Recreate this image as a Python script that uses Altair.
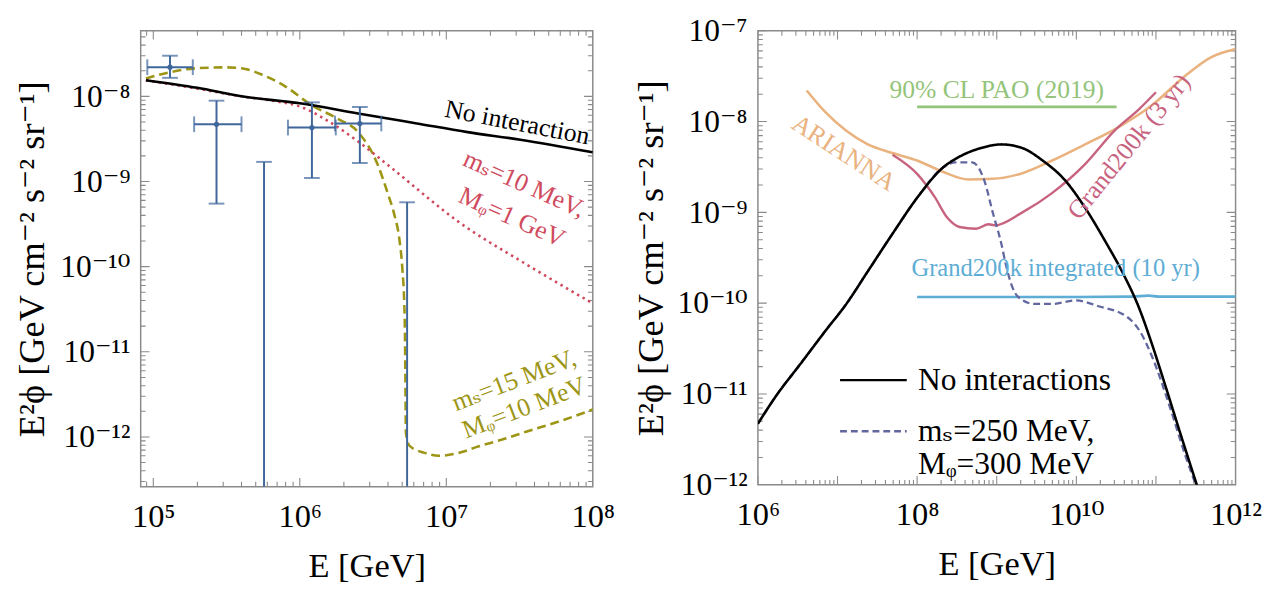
import math
import altair as alt
import pandas as pd

FONT = "Liberation Serif, DejaVu Serif"
GRAY = "#8a8a8a"

# ---------------- LEFT PANEL DATA ----------------
noint_L_E = [8.9e4, 2.0e5, 4.0e5, 1.0e6, 2.5e6, 6.3e6, 1.4e7, 3.2e7, 1.0e8]
noint_L_phi = [1.55e-8, 1.26e-8, 1.0e-8, 8.3e-9, 6.3e-9, 4.8e-9, 3.8e-9, 3.1e-9, 2.2e-9]

red_E = [8.9e4, 2.0e5, 4.0e5, 7.0e5, 1.0e6, 1.6e6, 2.5e6, 4.5e6, 1.2e7, 3.5e7, 1.0e8]
red_phi = [1.55e-8, 1.23e-8, 1.0e-8, 8.7e-9, 7.6e-9, 5.0e-9, 2.95e-9, 1.32e-9, 3.4e-10, 1.07e-10, 3.7e-11]

olive_E = [8.9e4, 1.26e5, 2.0e5, 3.16e5, 4.0e5, 5.6e5, 7.9e5, 1.2e6, 1.8e6, 2.5e6, 3.4e6,
           4.0e6, 4.4e6, 4.8e6, 5.0e6, 5.2e6, 5.25e6, 5.3e6, 5.6e6, 7.1e6, 8.9e6, 1.26e7,
           1.6e7, 2.5e7, 3.5e7, 6.3e7, 1.0e8]
olive_phi = [1.62e-8, 1.9e-8, 2.14e-8, 2.19e-8, 2.14e-8, 1.78e-8, 1.32e-8, 7.9e-9, 5.5e-9, 3.8e-9, 1.58e-9,
             7.1e-10, 4.2e-10, 2.0e-10, 1.0e-10, 2.5e-11, 6.3e-12, 1.12e-12, 7.9e-13, 6.5e-13, 6.0e-13, 6.6e-13,
             7.6e-13, 9.5e-13, 1.15e-12, 1.58e-12, 2.1e-12]

pts_E = [1.3e5, 2.7e5, 1.21e6, 2.57e6]
pts_phi = [2.2e-8, 4.7e-9, 4.3e-9, 4.8e-9]
pts_Elo = [9.1e4, 1.9e5, 8.3e5, 1.74e6]
pts_Ehi = [1.86e5, 4.0e5, 1.76e6, 3.6e6]
pts_phlo = [1.65e-8, 5.5e-10, 1.1e-9, 1.65e-9]
pts_phhi = [3.0e-8, 8.9e-9, 8.5e-9, 7.5e-9]
ul_E = [5.7e5, 5.4e6]
ul_phi = [1.7e-9, 5.7e-10]

L_xdomain = [8.2e4, 1.0e8]
L_ydomain = [2.6e-13, 5.9e-8]
L_xticks = [1e5, 1e6, 1e7, 1e8]
L_xlabels = ["10⁵", "10⁶", "10⁷", "10⁸"]
L_yticks = [1e-12, 1e-11, 1e-10, 1e-9, 1e-8]
L_ylabels = ["10⁻¹²", "10⁻¹¹", "10⁻¹⁰", "10⁻⁹", "10⁻⁸"]

# ---------------- RIGHT PANEL DATA ----------------
noint_R_E = [1.0e6, 1.66e6, 3.5e6, 7.1e6, 1.29e7, 2.4e7, 4.9e7, 1.02e8, 2.1e8, 3.4e8, 6.3e8,
             1.15e9, 2.1e9, 3.8e9, 7.1e9, 1.29e10, 2.34e10, 4.0e10, 6.0e10, 8.9e10, 1.26e11,
             2.0e11, 3.55e11]
noint_R_phi = [4.7e-12, 9.3e-12, 2.2e-11, 5.0e-11, 9.8e-11, 2.24e-10, 5.8e-10, 1.48e-9, 3.1e-9, 4.1e-9, 5.1e-9,
               5.6e-9, 5.1e-9, 3.7e-9, 2.29e-9, 1.12e-9, 4.7e-10, 2.0e-10, 9.3e-11, 3.55e-11, 1.38e-11,
               3.8e-12, 7.9e-13]

int_R_E = [1.0e6, 1.66e6, 3.5e6, 7.1e6, 1.29e7, 2.4e7, 4.9e7, 1.02e8, 2.1e8, 3.0e8, 4.9e8,
           7.1e8, 8.9e8, 1.15e9, 1.29e9, 1.55e9, 1.86e9, 3.0e9, 4.9e9, 1.0e10, 1.86e10,
           4.3e10, 6.2e10, 8.9e10, 1.45e11, 2.34e11, 3.16e11]
int_R_phi = [4.7e-12, 9.3e-12, 2.2e-11, 5.0e-11, 9.8e-11, 2.24e-10, 5.8e-10, 1.48e-9, 3.1e-9, 3.55e-9, 3.55e-9,
             2.14e-9, 1.0e-9, 4.4e-10, 2.75e-10, 1.55e-10, 1.17e-10, 9.8e-11, 9.8e-11, 1.07e-10, 9.3e-11,
             7.1e-11, 5.0e-11, 2.6e-11, 7.8e-12, 2.1e-12, 1.0e-12]

arianna_E = [4.1e6, 7.1e6, 1.29e7, 2.4e7, 4.9e7, 1.02e8, 2.1e8, 4.4e8, 8.9e8, 2.1e9, 4.9e9,
             1.29e10, 3.4e10, 8.9e10, 2.34e11, 4.9e11, 1.0e12]
arianna_phi = [2.2e-8, 1.26e-8, 7.9e-9, 5.6e-9, 4.5e-9, 3.7e-9, 2.8e-9, 2.3e-9, 2.34e-9, 2.7e-9, 3.7e-9,
               5.6e-9, 8.7e-9, 1.51e-8, 3.2e-8, 5.1e-8, 6.3e-8]

grand3_E = [4.9e7, 1.02e8, 1.66e8, 2.4e8, 3.4e8, 5.5e8, 7.9e8, 9.5e8, 2.1e9, 4.9e9, 1.29e10,
            3.0e10, 6.2e10, 1.0e11]
grand3_phi = [4.3e-9, 2.6e-9, 1.48e-9, 8.7e-10, 6.9e-10, 6.6e-10, 7.4e-10, 7.2e-10, 1.0e-9, 1.62e-9, 3.4e-9,
              7.9e-9, 1.38e-8, 2.1e-8]

pao_E = [1.0e8, 3.2e10]
pao_phi = [1.45e-8, 1.45e-8]

gint_E = [1.0e8, 1.0e9, 1.0e10, 5.0e10, 8.0e10, 1.1e11, 1.0e12]
gint_phi = [1.17e-10, 1.17e-10, 1.17e-10, 1.18e-10, 1.21e-10, 1.18e-10, 1.18e-10]

R_xdomain = [1.0e6, 1.0e12]
R_ydomain = [1.0e-12, 1.0e-7]
R_xticks = [1e6, 1e8, 1e10, 1e12]
R_xlabels = ["10⁶", "10⁸", "10¹⁰", "10¹²"]
R_yticks = [1e-12, 1e-11, 1e-10, 1e-9, 1e-8, 1e-7]
R_ylabels = ["10⁻¹²", "10⁻¹¹", "10⁻¹⁰", "10⁻⁹", "10⁻⁸", "10⁻⁷"]

series_names = ["No interactions", "mₛ=250 MeV,|Mᵩ=300 MeV"]

YTITLE = "E²ϕ [GeV cm⁻² s⁻² sr⁻¹]"
XTITLE = "E [GeV]"

WL, HL = 460, 464
WR, HR = 486, 462
SPACING = 168


def label_expr(values, labels):
    expr = "''"
    for v, l in reversed(list(zip(values, labels))):
        e = int(round(math.log10(v)))
        expr = f"(round(log(datum.value)/LN10) == {e}) ? '{l}' : ({expr})"
    return expr


def make_axes(xt, xl, yt, yl, title_x):
    ax = alt.Axis(values=xt, labelExpr=label_expr(xt, xl), ticks=False, domain=False, grid=False,
                  labelFont=FONT, labelFontSize=33, labelColor="black", labelFlush=False,
                  labelOverlap=False, labelPadding=14, title=XTITLE, titleFont=FONT,
                  titleFontSize=35, titleFontWeight="normal", titleColor="black", titlePadding=16)
    ay = alt.Axis(values=yt, labelExpr=label_expr(yt, yl), ticks=False, domain=False, grid=False,
                  labelFont=FONT, labelFontSize=32, labelColor="black", labelFlush=False,
                  labelOverlap=False, labelPadding=11, title=YTITLE, titleFont=FONT,
                  titleFontSize=37, titleFontWeight="normal", titleColor="black",
                  titleX=title_x, titleBaseline="middle")
    return ax, ay


def frame_ticks(xs, ys, ax, ay, W, H, xmaj, xmin, ymaj, ymin):
    layers = []
    for vals, L in [(xmaj, 9), (xmin, 5)]:
        base = alt.Chart(pd.DataFrame({"E": vals}))
        enc = dict(x=alt.X("E:Q", scale=xs, axis=ax))
        layers.append(base.mark_rule(color=GRAY, strokeWidth=1.1, clip=True).encode(
            y=alt.value(H), y2=alt.value(H - L), **enc))
        layers.append(base.mark_rule(color=GRAY, strokeWidth=1.1, clip=True).encode(
            y=alt.value(0), y2=alt.value(L), **enc))
    for vals, L in [(ymaj, 9), (ymin, 5)]:
        base = alt.Chart(pd.DataFrame({"phi": vals}))
        enc = dict(y=alt.Y("phi:Q", scale=ys, axis=ay))
        layers.append(base.mark_rule(color=GRAY, strokeWidth=1.1, clip=True).encode(
            x=alt.value(0), x2=alt.value(L), **enc))
        layers.append(base.mark_rule(color=GRAY, strokeWidth=1.1, clip=True).encode(
            x=alt.value(W), x2=alt.value(W - L), **enc))
    return layers


def minors(k0, k1):
    return [m * 10.0 ** k for k in range(k0, k1 + 1) for m in range(2, 10)]


def line(E, phi, xs, ys, ax, ay, color, width=2.4, dash=None, interp="monotone"):
    kw = dict(color=color, strokeWidth=width, clip=True, interpolate=interp)
    if dash:
        kw["strokeDash"] = dash
    return alt.Chart(pd.DataFrame({"E": E, "phi": phi})).mark_line(**kw).encode(
        x=alt.X("E:Q", scale=xs, axis=ax), y=alt.Y("phi:Q", scale=ys, axis=ay))


def note(text, E, phi, xs, ys, ax, ay, color, size, angle=0):
    kw = dict(font=FONT, fontSize=size, color=color, align="center", baseline="middle")
    if angle:
        kw["angle"] = angle
    return alt.Chart(pd.DataFrame({"E": [E], "phi": [phi], "t": [text]})).mark_text(**kw).encode(
        x=alt.X("E:Q", scale=xs, axis=ax), y=alt.Y("phi:Q", scale=ys, axis=ay), text="t:N")


# ---------------- LEFT CHART ----------------
xsL = alt.Scale(type="log", domain=L_xdomain, nice=False)
ysL = alt.Scale(type="log", domain=L_ydomain, nice=False)
axL, ayL = make_axes(L_xticks, L_xlabels, L_yticks, L_ylabels, -110)

BLUE = "#3f679c"
RED = "#d04a5e"
OLIVE = "#9d9515"

pts = pd.DataFrame({"E": pts_E, "phi": pts_phi, "Elo": pts_Elo, "Ehi": pts_Ehi,
                    "plo": pts_phlo, "phh": pts_phhi})
ul = pd.DataFrame({"E": ul_E, "phi": ul_phi, "floor": [L_ydomain[0]] * len(ul_E)})

X = lambda f: alt.X(f, scale=xsL, axis=axL)
Y = lambda f: alt.Y(f, scale=ysL, axis=ayL)

left_layers = frame_ticks(xsL, ysL, axL, ayL, WL, HL, L_xticks, minors(4, 7),
                          L_yticks, minors(-13, -8))
left_layers += [
    line(olive_E, olive_phi, xsL, ysL, axL, ayL, OLIVE, 2.6, [9, 5]),
    line(red_E, red_phi, xsL, ysL, axL, ayL, RED, 2.6, [2.5, 4]),
    line(noint_L_E, noint_L_phi, xsL, ysL, axL, ayL, "black", 2.6),
    alt.Chart(pts).mark_rule(color=BLUE, strokeWidth=2).encode(x=X("E:Q"), y=Y("plo:Q"), y2="phh:Q"),
    alt.Chart(pts).mark_rule(color=BLUE, strokeWidth=2).encode(x=X("Elo:Q"), x2="Ehi:Q", y=Y("phi:Q")),
    alt.Chart(pts).mark_tick(color=BLUE, orient="horizontal", size=16, thickness=2).encode(x=X("E:Q"), y=Y("plo:Q")),
    alt.Chart(pts).mark_tick(color=BLUE, orient="horizontal", size=16, thickness=2).encode(x=X("E:Q"), y=Y("phh:Q")),
    alt.Chart(pts).mark_tick(color=BLUE, orient="vertical", size=16, thickness=2).encode(x=X("Elo:Q"), y=Y("phi:Q")),
    alt.Chart(pts).mark_tick(color=BLUE, orient="vertical", size=16, thickness=2).encode(x=X("Ehi:Q"), y=Y("phi:Q")),
    alt.Chart(pts).mark_circle(color=BLUE, size=28, opacity=1).encode(x=X("E:Q"), y=Y("phi:Q")),
    alt.Chart(ul).mark_rule(color=BLUE, strokeWidth=2, clip=True).encode(x=X("E:Q"), y=Y("phi:Q"), y2="floor:Q"),
    alt.Chart(ul).mark_tick(color=BLUE, orient="horizontal", size=16, thickness=2).encode(x=X("E:Q"), y=Y("phi:Q")),
    note("No interaction", 3.05e7, 4.9e-9, xsL, ysL, axL, ayL, "black", 26, 11),
    note("mₛ=10 MeV,", 3.4e7, 9.3e-10, xsL, ysL, axL, ayL, RED, 26, 24),
    note("Mᵩ=1 GeV", 2.8e7, 3.8e-10, xsL, ysL, axL, ayL, RED, 26, 24),
    note("mₛ=15 MeV,", 2.9e7, 4.6e-12, xsL, ysL, axL, ayL, OLIVE, 26, 339),
    note("Mᵩ=10 MeV", 3.4e7, 2.2e-12, xsL, ysL, axL, ayL, OLIVE, 26, 339),
]
left = alt.layer(*left_layers).properties(width=WL, height=HL)

# ---------------- RIGHT CHART ----------------
xsR = alt.Scale(type="log", domain=R_xdomain, nice=False)
ysR = alt.Scale(type="log", domain=R_ydomain, nice=False)
axR, ayR = make_axes(R_xticks, R_xlabels, R_yticks, R_ylabels, -108)

ORANGE = "#e9b27f"
PINK = "#c8637f"
GREEN = "#93c47a"
LBLUE = "#5eadd5"
PURPLE = "#62679f"

main = pd.concat([
    pd.DataFrame({"E": noint_R_E, "phi": noint_R_phi, "s": series_names[0]}),
    pd.DataFrame({"E": int_R_E, "phi": int_R_phi, "s": series_names[1]}),
])
col = alt.Color("s:N", scale=alt.Scale(domain=series_names, range=["black", PURPLE]),
                legend=alt.Legend(orient="none", legendX=WL + SPACING + 82, legendY=320, title=None,
                                  labelFont=FONT, labelFontSize=32, labelColor="black",
                                  labelLimit=500, symbolType="stroke", symbolSize=4600,
                                  symbolStrokeWidth=2.5, labelOffset=10, rowPadding=0,
                                  labelExpr="split(datum.label, '|')"))
dash = alt.StrokeDash("s:N", scale=alt.Scale(domain=series_names, range=[[1, 0], [7, 4]]), legend=None)
XR = alt.X("E:Q", scale=xsR, axis=axR)
YR = alt.Y("phi:Q", scale=ysR, axis=ayR)

right_layers = frame_ticks(xsR, ysR, axR, ayR, WR, HR, [1e6, 1e7, 1e8, 1e9, 1e10, 1e11, 1e12],
                           minors(6, 11), R_yticks, minors(-12, -8))
right_layers += [
    line(arianna_E, arianna_phi, xsR, ysR, axR, ayR, ORANGE, 2.6),
    line(grand3_E, grand3_phi, xsR, ysR, axR, ayR, PINK, 2.4),
    line(pao_E, pao_phi, xsR, ysR, axR, ayR, GREEN, 2.6, interp="linear"),
    line(gint_E, gint_phi, xsR, ysR, axR, ayR, LBLUE, 2.6),
    alt.Chart(main).transform_filter(alt.datum.s == series_names[1]).mark_line(
        strokeWidth=2.3, clip=True, interpolate="monotone").encode(x=XR, y=YR, color=col, strokeDash=dash),
    alt.Chart(main).transform_filter(alt.datum.s == series_names[0]).mark_line(
        strokeWidth=2.6, clip=True, interpolate="monotone").encode(x=XR, y=YR, color=col, strokeDash=dash),
    note("90% CL PAO (2019)", 1.0e9, 2.2e-8, xsR, ysR, axR, ayR, GREEN, 26),
    note("Grand200k integrated (10 yr)", 5.5e9, 2.4e-10, xsR, ysR, axR, ayR, LBLUE, 25),
    note("ARIANNA", 1.2e7, 4.5e-9, xsR, ysR, axR, ayR, ORANGE, 26, 33),
    note("Grand200k (3 yr)", 4.6e10, 5.3e-9, xsR, ysR, axR, ayR, PINK, 26, 309),
]
right = alt.layer(*right_layers).properties(width=WR, height=HR)

chart = alt.hconcat(left, right, spacing=SPACING, bounds="flush").properties(
    padding={"left": 5, "top": 1, "right": 5, "bottom": 5}
).configure_view(stroke=GRAY, strokeWidth=1.5)

chart.save("out.html", embed_options={"renderer": "svg", "actions": False})
